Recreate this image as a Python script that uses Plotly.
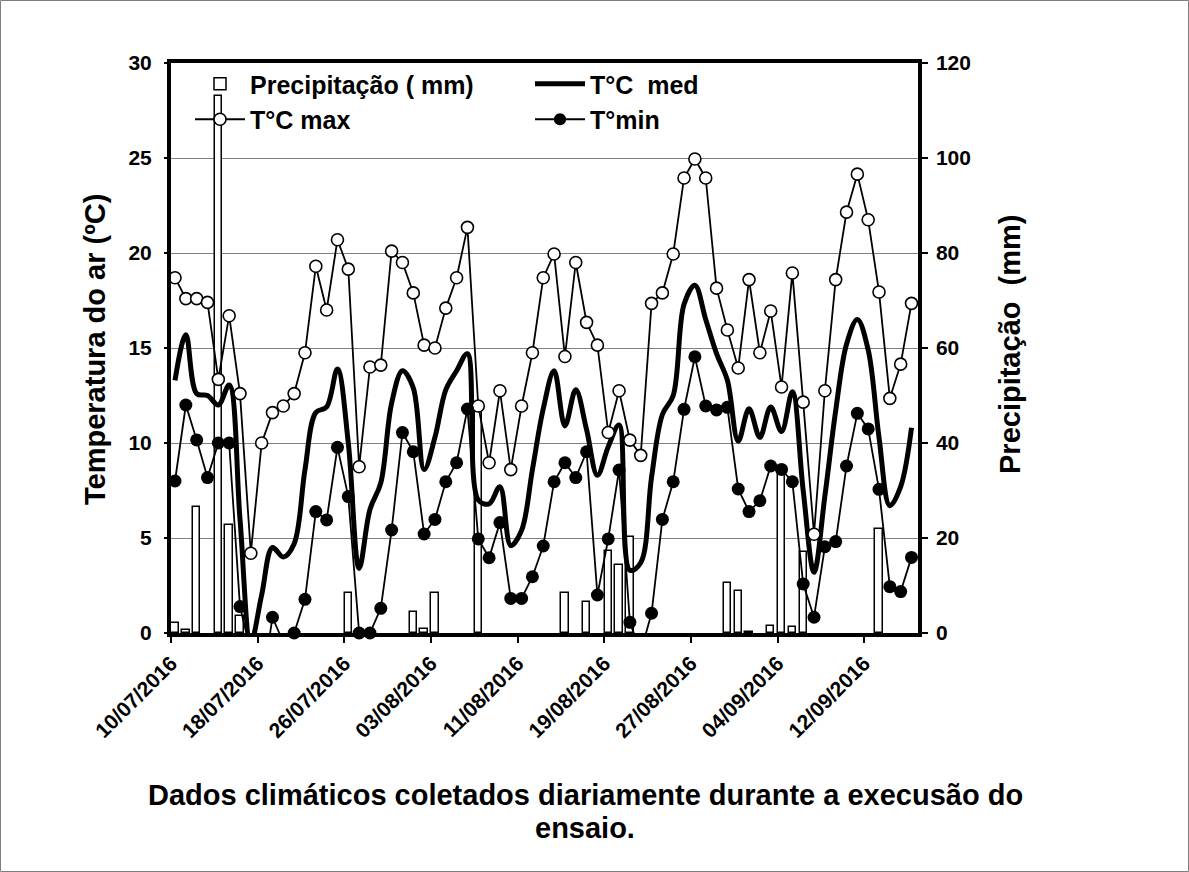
import plotly.graph_objects as go

# ---------------- data ----------------
tick_labels = ["10/07/2016", "18/07/2016", "26/07/2016", "03/08/2016", "11/08/2016",
               "19/08/2016", "27/08/2016", "04/09/2016", "12/09/2016"]

precip = [2.2, 0.6, 26.6, 0, 113, 22.8, 3.5, 0, 0, 0,
          0, 0, 0, 0, 0, 0, 8.4, 0, 0, 0,
          0, 0, 4.5, 0.8, 8.4, 0, 0, 0, 48, 0,
          0, 0, 0, 0, 0, 0, 8.4, 0, 6.6, 0,
          17.2, 14.3, 20.3, 0, 0, 0, 0, 0, 0, 0,
          0, 10.5, 8.9, 0.3, 0, 1.5, 34.5, 1.2, 17.1, 0,
          0, 0, 0, 0, 0, 22.0, 0, 0, 0]

t_med = [13.3, 15.7, 12.6, 12.5, 12.0, 13.05, 6.0, -0.5, 2.0, 4.5,
         4.0, 4.7, 8.6, 11.6, 11.9, 13.9, 10.0, 3.4, 6.5, 7.9,
         12.1, 13.8, 12.9, 8.6, 10.3, 12.8, 13.8, 14.7, 7.0, 6.8,
         7.7, 4.6, 5.4, 8.6, 11.8, 13.8, 10.9, 12.8, 10.7, 8.3,
         9.8, 10.95, 3.3, 3.7, 8.2, 11.5, 12.5, 17.3, 18.3, 16.5,
         14.7, 13.3, 10.1, 11.8, 10.3, 11.9, 10.6, 12.7, 7.5, 3.2,
         7.2, 11.7, 15.2, 16.5, 14.9, 10.3, 6.7, 7.7, 10.8]

t_max = [18.7, 17.6, 17.6, 17.4, 13.35, 16.7, 12.6, 4.2, 10.0, 11.6,
         11.95, 12.6, 14.75, 19.3, 17.0, 20.7, 19.15, 8.75, 14.0, 14.1,
         20.1, 19.5, 17.9, 15.15, 15.0, 17.1, 18.7, 21.35, 11.95, 8.96,
         12.75, 8.6, 11.95, 14.75, 18.7, 19.95, 14.55, 19.5, 16.35, 15.15,
         10.55, 12.75, 10.15, 9.35, 17.35, 17.9, 19.95, 23.95, 24.95, 23.95,
         18.15, 15.95, 13.95, 18.6, 14.75, 16.95, 12.95, 18.95, 12.15, 5.2,
         12.75, 18.6, 22.15, 24.15, 21.75, 17.95, 12.35, 14.15, 17.35]

t_min = [8.0, 12.0, 10.16, 8.18, 10.0, 10.0, 1.39, -1.0, -3.0, 0.83,
         -0.5, 0.0, 1.77, 6.39, 5.95, 9.77, 7.18, 0.0, 0.0, 1.3,
         5.42, 10.55, 9.54, 5.21, 5.98, 7.96, 8.96, 11.79, 4.95, 3.96,
         5.81, 1.82, 1.82, 2.96, 4.58, 7.96, 8.96, 8.18, 9.54, 2.0,
         4.95, 8.58, 0.56, -1.0, 1.04, 5.98, 7.96, 11.77, 14.54, 11.95,
         11.74, 11.88, 7.58, 6.39, 6.96, 8.79, 8.61, 7.96, 2.58, 0.83,
         4.54, 4.81, 8.79, 11.56, 10.74, 7.56, 2.44, 2.18, 3.98]

days = list(range(len(t_max)))

# ---------------- layout geometry ----------------
W, H = 1189, 872
L, R, T, B = 171, 271, 63, 239
PW, PH = W - L - R, H - T - B

FAM = "Arial, Liberation Sans, sans-serif"
TICKFONT = dict(family=FAM, size=21, color="black", weight="bold")
LEGFONT = dict(family=FAM, size=25, color="black", weight="bold")
TITLEFONT = dict(family=FAM, size=29, color="black", weight="bold")


def py(pix):
    """pixel row -> paper y"""
    return (T + PH - pix) / PH


def px(pix):
    """pixel column -> paper x"""
    return (pix - L) / PW


fig = go.Figure()

fig.add_trace(go.Bar(
    x=days, y=[v if v > 0 else None for v in precip], name="Precipitação ( mm)", yaxis="y",
    marker=dict(color="white", line=dict(color="black", width=1.5)),
    width=0.68, legend="legend", legendgroup="a",
))
fig.add_trace(go.Scatter(
    x=days, y=t_med, name="T°C  med", yaxis="y2", mode="lines",
    line=dict(color="black", width=5, shape="spline", smoothing=1.0),
    legend="legend2", legendgroup="b",
))
fig.add_trace(go.Scatter(
    x=days, y=t_max, name="T°C max", yaxis="y2", mode="lines+markers",
    line=dict(color="black", width=1.8),
    marker=dict(symbol="circle", size=12, color="white", opacity=1,
                line=dict(color="black", width=1.6)),
    legend="legend", legendgroup="c", cliponaxis=False,
))
fig.add_trace(go.Scatter(
    x=days, y=t_min, name="T°min", yaxis="y2", mode="lines+markers",
    line=dict(color="black", width=1.8),
    marker=dict(symbol="circle", size=[13 if v >= 0 else 0 for v in t_min], color="black",
                opacity=1, line=dict(color="black", width=0)),
    legend="legend2", legendgroup="d", cliponaxis=False,
))

x0 = -0.37
fig.update_layout(
    width=W, height=H,
    margin=dict(l=L, r=R, t=T, b=B, autoexpand=False),
    paper_bgcolor="white", plot_bgcolor="white",
    font=TICKFONT,
    bargap=0,
    xaxis=dict(
        range=[x0, 68.6], tickmode="array",
        tickvals=[x0 + 8 * k for k in range(len(tick_labels))], ticktext=tick_labels,
        tickangle=-45, ticks="outside", ticklen=6, tickwidth=1.5, tickcolor="black",
        showline=True, linecolor="black", linewidth=3.5, mirror=True,
        showgrid=False, zeroline=False, tickfont=TICKFONT,
    ),
    yaxis=dict(
        side="right", range=[0, 120], tickmode="array", tickvals=[0, 20, 40, 60, 80, 100, 120],
        ticks="outside", ticklen=6, tickwidth=1.5, tickcolor="black",
        showline=True, linecolor="black", linewidth=3.5, mirror=True,
        showgrid=True, gridcolor="#808080", gridwidth=1, zeroline=False,
        tickfont=TICKFONT, ticklabelstandoff=4,
    ),
    yaxis2=dict(
        side="left", overlaying="y", range=[0, 30], tickmode="array",
        tickvals=[0, 5, 10, 15, 20, 25, 30],
        ticks="outside", ticklen=6, tickwidth=1.5, tickcolor="black",
        showline=False, showgrid=False, zeroline=False,
        tickfont=TICKFONT, ticklabelstandoff=8,
    ),
    legend=dict(
        x=px(190), y=py(61), xanchor="left", yanchor="top", orientation="v",
        bgcolor="rgba(0,0,0,0)", font=LEGFONT, itemwidth=50, tracegroupgap=0,
    ),
    legend2=dict(
        x=px(530), y=py(61), xanchor="left", yanchor="top", orientation="v",
        bgcolor="rgba(0,0,0,0)", font=LEGFONT, itemwidth=50, tracegroupgap=0,
    ),
    showlegend=True,
)

fig.add_annotation(
    text="Temperatura do ar (ºC)", xref="paper", yref="paper",
    x=px(95), y=py(350), textangle=-90, showarrow=False,
    font=TITLEFONT, xanchor="center", yanchor="middle",
)
fig.add_annotation(
    text="Precipitação  (mm)", xref="paper", yref="paper",
    x=px(1010), y=py(345), textangle=-90, showarrow=False,
    font=TITLEFONT, xanchor="center", yanchor="middle",
)
fig.add_annotation(
    text="Dados climáticos coletados diariamente durante a execusão do",
    xref="paper", yref="paper", x=px(585), y=py(795),
    showarrow=False, font=TITLEFONT, xanchor="center", yanchor="middle",
)
fig.add_annotation(
    text="ensaio.",
    xref="paper", yref="paper", x=px(585), y=py(828),
    showarrow=False, font=TITLEFONT, xanchor="center", yanchor="middle",
)

# outer chart border
fig.add_shape(
    type="rect", xref="paper", yref="paper",
    x0=px(0.5), x1=px(W - 0.5), y0=py(H - 0.5), y1=py(0.5),
    line=dict(color="#7f7f7f", width=1), fillcolor="rgba(0,0,0,0)", layer="below",
)

fig.write_html(
    "out.html",
    config={"displayModeBar": False},
    post_script="document.body.style.margin='0';document.body.style.overflow='hidden';",
)
